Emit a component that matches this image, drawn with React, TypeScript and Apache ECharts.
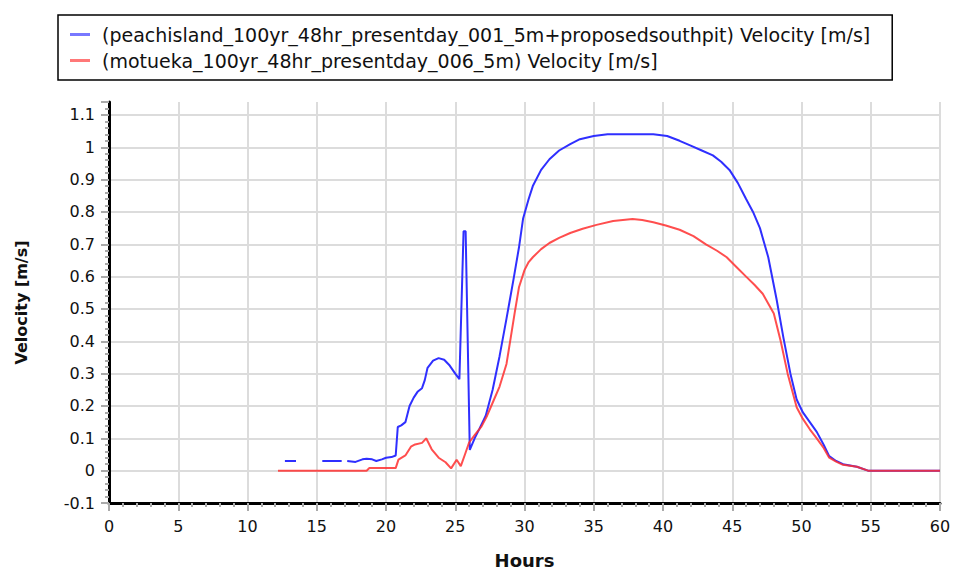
import React, { useEffect, useRef } from "react";
import * as echarts from "echarts";

const blueName = "(peachisland_100yr_48hr_presentday_001_5m+proposedsouthpit) Velocity [m/s]";
const redName = "(motueka_100yr_48hr_presentday_006_5m) Velocity [m/s]";

const blueHours = [12.7, 13.5, 14.4, 15.4, 16.8, 17.0, 17.2, 17.8, 18.3, 18.6, 19.0, 19.3, 19.7, 20.0, 20.4, 20.7, 20.85, 21.1, 21.4, 21.7, 22.0, 22.3, 22.6, 22.8, 23.0, 23.4, 23.8, 24.2, 24.6, 25.0, 25.3, 25.6, 25.75, 26.05, 26.4, 26.75, 27.2, 27.7, 28.2, 28.7, 29.2, 29.6, 29.9, 30.3, 30.6, 31.2, 31.8, 32.5, 33.3, 34.0, 35.0, 36.0, 37.0, 38.0, 39.3, 40.3, 41.2, 42.0, 42.8, 43.6, 44.2, 44.8, 45.4, 46.0, 46.5, 47.0, 47.6, 48.2, 48.7, 49.2, 49.65, 50.1, 50.6, 51.1, 51.6, 52.0, 52.5, 53.0, 54.0, 54.8, 60.0];
const blueValues: (number | string)[] = [0.03, 0.03, "-", 0.03, 0.03, "-", 0.03, 0.027, 0.035, 0.037, 0.035, 0.03, 0.035, 0.04, 0.042, 0.047, 0.135, 0.14, 0.15, 0.2, 0.226, 0.245, 0.255, 0.28, 0.318, 0.34, 0.348, 0.343, 0.325, 0.3, 0.283, 0.74, 0.74, 0.064, 0.1, 0.13, 0.17, 0.25, 0.354, 0.47, 0.59, 0.69, 0.78, 0.84, 0.88, 0.93, 0.963, 0.99, 1.01, 1.025, 1.035, 1.04, 1.04, 1.04, 1.04, 1.035, 1.02, 1.005, 0.99, 0.975, 0.955, 0.93, 0.89, 0.84, 0.8, 0.75, 0.66, 0.53, 0.41, 0.3, 0.22, 0.18, 0.15, 0.12, 0.08, 0.045, 0.03, 0.02, 0.012, 0.0, 0.0];

const redHours = [12.2, 18.6, 18.8, 20.7, 20.9, 21.4, 21.8, 22.1, 22.6, 22.9, 23.3, 23.8, 24.3, 24.7, 25.1, 25.4, 25.7, 26.0, 26.4, 26.9, 27.3, 27.7, 28.2, 28.7, 29.0, 29.3, 29.6, 30.0, 30.3, 30.6, 31.2, 31.8, 32.5, 33.3, 34.2, 35.2, 36.4, 37.8, 38.5, 39.3, 40.2, 41.2, 42.2, 43.1, 43.9, 44.6, 45.3, 46.0, 46.6, 47.2, 48.0, 48.5, 49.0, 49.65, 50.1, 50.6, 51.1, 51.6, 52.0, 52.5, 53.0, 54.0, 54.8, 60.0];
const redValues = [0, 0, 0.008, 0.008, 0.034, 0.047, 0.074, 0.081, 0.086, 0.1, 0.066, 0.04, 0.026, 0.007, 0.034, 0.014, 0.05, 0.087, 0.11, 0.137, 0.17, 0.21, 0.26, 0.33, 0.41, 0.49, 0.567, 0.62, 0.645, 0.66, 0.685, 0.704, 0.72, 0.735, 0.748, 0.76, 0.772, 0.778, 0.775, 0.768, 0.758, 0.745, 0.725, 0.7, 0.68, 0.66, 0.63, 0.6, 0.575, 0.547, 0.486, 0.4, 0.3, 0.196, 0.16, 0.128, 0.1, 0.07, 0.04, 0.028, 0.018, 0.012, 0, 0];

const FONT = "DejaVu Sans";

export default function App() {
  const ref = useRef<HTMLDivElement>(null);
  useEffect(() => {
    if (!ref.current) return;
    const chart = echarts.init(ref.current, undefined, { renderer: "svg" });
    const blueData = blueHours.map((h, i) => [h, blueValues[i]]);
    const redData = redHours.map((h, i) => [h, redValues[i]]);
    chart.setOption({
      animation: false,
      backgroundColor: "#fff",
      legend: {
        orient: "vertical",
        left: 58,
        top: 15,
        borderColor: "#000",
        borderWidth: 1.5,
        padding: [9, 22, 9, 12],
        itemGap: 5,
        itemWidth: 20,
        itemHeight: 3,
        selectedMode: false,
        textStyle: { fontFamily: FONT, fontSize: 19, color: "#111", lineHeight: 21, padding: [0, 0, 0, 7] },
        data: [
          { name: blueName, icon: "rect", itemStyle: { color: "#7878ff" } },
          { name: redName, icon: "rect", itemStyle: { color: "#ff7878" } },
        ],
      },
      grid: { left: 109, right: 16, top: 102, bottom: 65 },
      xAxis: {
        type: "value",
        min: 0,
        max: 60,
        interval: 5,
        name: "Hours",
        nameLocation: "middle",
        nameGap: 48,
        nameTextStyle: { fontFamily: FONT, fontSize: 18, fontWeight: "bold", color: "#111" },
        axisLine: { show: true, onZero: false, lineStyle: { color: "#000", width: 3 } },
        axisTick: { show: true, length: 8, lineStyle: { color: "#aaa", width: 2 } },
        minorTick: { show: true, splitNumber: 5, length: 4, lineStyle: { color: "#aaa", width: 2 } },
        axisLabel: { fontFamily: FONT, fontSize: 16, color: "#111", margin: 15 },
        splitLine: { show: true, lineStyle: { color: "#dcdcdc", width: 2 } },
      },
      yAxis: {
        type: "value",
        min: -0.1,
        max: 1.14,
        interval: 0.1,
        name: "Velocity [m/s]",
        nameLocation: "middle",
        nameGap: 80,
        nameTextStyle: { fontFamily: FONT, fontSize: 16, fontWeight: "bold", color: "#111" },
        axisLine: { show: true, lineStyle: { color: "#000", width: 3 } },
        axisTick: { show: true, length: 8, lineStyle: { color: "#aaa", width: 2 } },
        minorTick: { show: true, splitNumber: 5, length: 4, lineStyle: { color: "#aaa", width: 2 } },
        axisLabel: {
          fontFamily: FONT,
          fontSize: 16,
          color: "#111",
          margin: 14,
          formatter: (v: number) => {
            const r = Math.round(v * 10);
            if (Math.abs(v * 10 - r) > 1e-6) return "";
            return String(r / 10);
          },
        },
        splitLine: { show: true, showMaxLine: false, lineStyle: { color: "#dcdcdc", width: 2 } },
      },
      series: [
        {
          name: blueName,
          type: "line",
          data: blueData,
          showSymbol: false,
          symbol: "none",
          connectNulls: false,
          lineStyle: { color: "#2f2fff", width: 2 },
          itemStyle: { color: "#2f2fff" },
        },
        {
          name: redName,
          type: "line",
          data: redData,
          showSymbol: false,
          symbol: "none",
          lineStyle: { color: "#ff2f2f", width: 2, opacity: 0.85 },
          itemStyle: { color: "#ff2f2f" },
        },
      ],
    });
    return () => chart.dispose();
  }, []);
  return <div ref={ref} style={{ width: 956, height: 574, position: "absolute", left: 0, top: 0 }} />;
}
